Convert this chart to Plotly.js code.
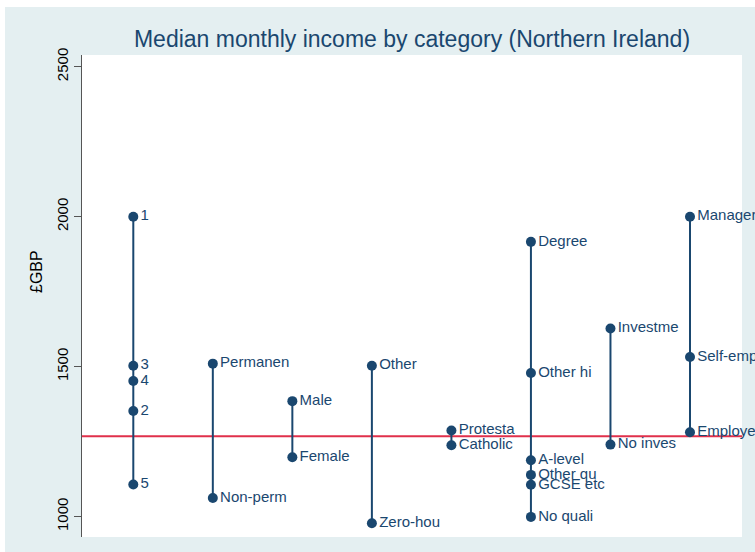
<!DOCTYPE html>
<html>
<head>
<meta charset="utf-8">
<script src="https://cdn.plot.ly/plotly-3.0.1.min.js"></script>
<style>
  html, body { margin: 0; padding: 0; background: #ffffff; }
  #chart { width: 755px; height: 552px; }
</style>
</head>
<body>
<div id="chart"></div>
<script>
// ---- Data ----
const groupPositions = [1, 2, 3, 4, 5, 6, 7, 8];

const quintileLabels = ["1", "2", "3", "4", "5"];
const quintileValues = [2000, 1352, 1503, 1452, 1107];

const contractLabels = ["Permanen", "Non-perm"];
const contractValues = [1510, 1062];

const sexLabels = ["Male", "Female"];
const sexValues = [1385, 1198];

const hoursLabels = ["Other", "Zero-hou"];
const hoursValues = [1503, 978];

const religionLabels = ["Protesta", "Catholic"];
const religionValues = [1287, 1238];

const educationLabels = ["Degree", "Other hi", "A-level", "Other qu", "GCSE etc", "No quali"];
const educationValues = [1916, 1479, 1188, 1139, 1106, 999];

const investLabels = ["Investme", "No inves"];
const investValues = [1627, 1240];

const employmentLabels = ["Managers", "Self-emp", "Employee"];
const employmentValues = [2000, 1532, 1281];

const overallMedian = 1268;

const yTickValues = [1000, 1500, 2000, 2500];

// ---- Build traces ----
const NAVY = "#1a476f";
const groups = [
  [quintileLabels, quintileValues],
  [contractLabels, contractValues],
  [sexLabels, sexValues],
  [hoursLabels, hoursValues],
  [religionLabels, religionValues],
  [educationLabels, educationValues],
  [investLabels, investValues],
  [employmentLabels, employmentValues]
];

const traces = groups.map(function (g, i) {
  const labels = g[0], vals = g[1];
  const idx = vals.map(function (v, k) { return k; }).sort(function (a, b) { return vals[b] - vals[a]; });
  return {
    type: "scatter",
    mode: "lines+markers+text",
    x: idx.map(function () { return groupPositions[i]; }),
    y: idx.map(function (k) { return vals[k]; }),
    text: idx.map(function (k) { return labels[k]; }),
    textposition: "middle right",
    textfont: { family: "Liberation Sans, Arial, sans-serif", size: 15, color: NAVY },
    line: { color: NAVY, width: 2 },
    marker: { color: NAVY, size: 10 },
    cliponaxis: false,
    hoverinfo: "skip"
  };
});

const layout = {
  width: 755,
  height: 552,
  margin: { l: 82, r: 13, t: 55, b: 15, pad: 0 },
  paper_bgcolor: "#ffffff",
  plot_bgcolor: "#ffffff",
  showlegend: false,
  font: { family: "Liberation Sans, Arial, sans-serif", color: "#000000" },
  title: {
    text: "Median monthly income by category (Northern Ireland)",
    font: { family: "Liberation Sans, Arial, sans-serif", size: 23, color: NAVY },
    xref: "paper", x: 0.5, xanchor: "center",
    yref: "container", y: 1 - 39 / 552, yanchor: "middle"
  },
  xaxis: {
    visible: false,
    range: [0.355, 8.654],
    fixedrange: true
  },
  yaxis: {
    range: [932, 2539],
    tickvals: yTickValues,
    ticktext: yTickValues.map(String),
    tickangle: -90,
    tickfont: { size: 15, color: "#000000" },
    ticks: "outside",
    ticklen: 7,
    tickwidth: 1,
    tickcolor: "#555555",
    showline: true,
    linecolor: "#555555",
    linewidth: 1,
    showgrid: false,
    zeroline: false,
    fixedrange: true
  },
  annotations: [
    { text: "£GBP", xref: "paper", yref: "paper", x: -0.068, y: 0.55,
      xanchor: "center", yanchor: "middle", textangle: -90, showarrow: false,
      font: { family: "Liberation Sans, Arial, sans-serif", size: 16, color: "#000000" } }
  ],
  shapes: [
    { type: "rect", xref: "paper", yref: "paper", x0: -0.1167, x1: 1.1, y0: -0.1, y1: 1.0996,
      fillcolor: "#e4eff1", line: { width: 0 }, layer: "below" },
    { type: "rect", xref: "paper", yref: "paper", x0: 0, x1: 1, y0: 0, y1: 1,
      fillcolor: "#ffffff", line: { width: 0 }, layer: "below" },
    { type: "line", xref: "paper", yref: "y", x0: 0, x1: 1, y0: overallMedian, y1: overallMedian,
      line: { color: "#e0304b", width: 2 }, layer: "below" }
  ]
};

Plotly.newPlot("chart", traces, layout, { staticPlot: true, displayModeBar: false });
</script>
</body>
</html>
